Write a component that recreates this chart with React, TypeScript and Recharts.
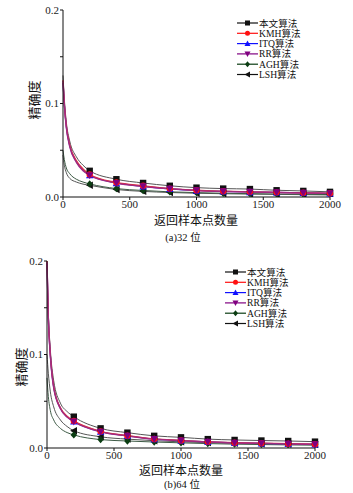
import React from 'react';
import { CartesianGrid, Legend, Line, LineChart, XAxis, YAxis } from 'recharts';

// returned-sample counts (x); markers only drawn at multiples of 200
const sampleCounts = [0, 10, 25, 50, 100, 150, 200, 400, 600, 800, 1000, 1200, 1400, 1600, 1800, 2000];

// (a) 32 bit
const ours32 = [0.13, 0.105, 0.08, 0.06, 0.043, 0.034, 0.028, 0.019, 0.015, 0.012, 0.01, 0.009, 0.0085, 0.0072, 0.0065, 0.0055];
const kmh32 = [0.125, 0.1, 0.076, 0.056, 0.039, 0.03, 0.024, 0.0155, 0.012, 0.009, 0.0072, 0.0062, 0.0055, 0.005, 0.0045, 0.004];
const itq32 = [0.124, 0.099, 0.075, 0.055, 0.038, 0.029, 0.0235, 0.015, 0.0115, 0.0088, 0.007, 0.006, 0.0054, 0.0049, 0.0044, 0.0039];
const rr32 = [0.122, 0.098, 0.074, 0.054, 0.037, 0.028, 0.023, 0.0148, 0.0112, 0.0086, 0.0069, 0.0059, 0.0053, 0.0048, 0.0043, 0.0038];
const agh32 = [0.05, 0.04, 0.031, 0.025, 0.019, 0.016, 0.014, 0.009, 0.007, 0.0055, 0.0047, 0.004, 0.0036, 0.0032, 0.0029, 0.0026];
const lsh32 = [0.045, 0.034, 0.026, 0.02, 0.016, 0.0138, 0.0125, 0.008, 0.006, 0.0048, 0.004, 0.0035, 0.0031, 0.0028, 0.0025, 0.0022];

// (b) 64 bit
const ours64 = [0.2, 0.145, 0.105, 0.072, 0.048, 0.039, 0.0335, 0.021, 0.0164, 0.013, 0.0114, 0.0095, 0.0086, 0.008, 0.0075, 0.0068];
const kmh64 = [0.2, 0.14, 0.1, 0.066, 0.043, 0.034, 0.029, 0.0178, 0.0132, 0.0097, 0.0081, 0.0066, 0.0056, 0.0051, 0.0046, 0.0041];
const itq64 = [0.199, 0.139, 0.099, 0.065, 0.0425, 0.0335, 0.0285, 0.0175, 0.013, 0.0095, 0.0079, 0.0065, 0.0055, 0.005, 0.0045, 0.004];
const rr64 = [0.198, 0.138, 0.098, 0.064, 0.042, 0.033, 0.028, 0.0172, 0.0128, 0.0094, 0.0078, 0.0064, 0.0054, 0.0049, 0.0044, 0.0039];
const agh64 = [0.075, 0.055, 0.04, 0.03, 0.021, 0.0165, 0.014, 0.009, 0.0075, 0.0064, 0.0055, 0.0047, 0.0041, 0.0037, 0.0033, 0.003];
const lsh64 = [0.1, 0.08, 0.06, 0.044, 0.03, 0.023, 0.0185, 0.012, 0.0095, 0.0078, 0.0066, 0.0057, 0.005, 0.0045, 0.004, 0.0036];

const xTicks = [0, 500, 1000, 1500, 2000];
const yTicks = [0, 0.05, 0.1, 0.15, 0.2];

type Series = { key: string; name: string; line: string; mark: string; shape: string; width: number };

const series: Series[] = [
  { key: 'lsh', name: 'LSH算法', line: '#555', mark: '#111', shape: 'left', width: 1 },
  { key: 'agh', name: 'AGH算法', line: '#3d5a45', mark: '#0b3d12', shape: 'diamond', width: 1 },
  { key: 'ours', name: '本文算法', line: '#555', mark: '#111', shape: 'square', width: 1 },
  { key: 'itq', name: 'ITQ算法', line: '#3030e0', mark: '#1010ff', shape: 'up', width: 1.3 },
  { key: 'kmh', name: 'KMH算法', line: '#e03040', mark: '#ff1010', shape: 'circle', width: 1.3 },
  { key: 'rr', name: 'RR算法', line: '#a02a80', mark: '#800080', shape: 'down', width: 1.3 },
];
const legendOrder = ['ours', 'kmh', 'itq', 'rr', 'agh', 'lsh'];

const build = (cols: Record<string, number[]>) =>
  sampleCounts.map((x, i) => {
    const row: Record<string, number> = { x };
    Object.keys(cols).forEach((k) => (row[k] = cols[k][i]));
    return row;
  });

const data32 = build({ ours: ours32, kmh: kmh32, itq: itq32, rr: rr32, agh: agh32, lsh: lsh32 });
const data64 = build({ ours: ours64, kmh: kmh64, itq: itq64, rr: rr64, agh: agh64, lsh: lsh64 });

const Marker = ({ shape, x, y, fill, s = 3.2 }: { shape: string; x: number; y: number; fill: string; s?: number }) => {
  switch (shape) {
    case 'square':
      return <rect x={x - s} y={y - s} width={s * 2} height={s * 2} fill={fill} />;
    case 'circle':
      return <circle cx={x} cy={y} r={s} fill={fill} />;
    case 'up':
      return <polygon points={`${x},${y - s - 0.5} ${x - s - 0.5},${y + s} ${x + s + 0.5},${y + s}`} fill={fill} />;
    case 'down':
      return <polygon points={`${x},${y + s + 0.5} ${x - s - 0.5},${y - s} ${x + s + 0.5},${y - s}`} fill={fill} />;
    case 'diamond':
      return <polygon points={`${x},${y - s - 0.5} ${x + s},${y} ${x},${y + s + 0.5} ${x - s},${y}`} fill={fill} />;
    default:
      return <polygon points={`${x - s - 0.5},${y} ${x + s},${y - s - 0.5} ${x + s},${y + s + 0.5}`} fill={fill} />;
  }
};

const makeDot = (s: Series) => (props: any) => {
  const { cx, cy, payload, index } = props;
  if (!payload || payload.x === 0 || payload.x % 200 !== 0) return <g key={`${s.key}-${index}`} />;
  return (
    <g key={`${s.key}-${index}`}>
      <Marker shape={s.shape} x={cx} y={cy} fill={s.mark} />
    </g>
  );
};

const LegendBox = () => (
  <svg width={80} height={66} style={{ display: 'block', overflow: 'visible' }}>
    {legendOrder.map((k, i) => {
      const s = series.find((d) => d.key === k)!;
      const y = 5 + i * 10.3;
      return (
        <g key={k}>
          <line x1={0} x2={21} y1={y} y2={y} stroke={s.key === 'ours' || s.key === 'lsh' ? '#111' : s.mark} strokeWidth={1.2} />
          <Marker shape={s.shape} x={10.5} y={y} fill={s.mark} s={2.5} />
          <text x={22} y={y + 3.5} fontSize={9.6} fontFamily="'Liberation Serif', 'Noto Sans CJK SC', serif" fill="#111">
            {s.name}
          </text>
        </g>
      );
    })}
  </svg>
);

const tickStyle = { fontSize: 11, fontFamily: "'Liberation Serif', serif", fill: '#222' };
const yFmt = (v: number) => (v === 0 || v === 0.1 || v === 0.2 ? v.toFixed(1) : '');

type PanelProps = {
  data: Record<string, number>[];
  top: number;
  height: number;
  left: number;
  right: number;
  plotTop: number;
  xAxisH: number;
  legendLeft: number;
  legendTop: number;
};

const Panel = ({ data, top, height, left, right, plotTop, xAxisH, legendLeft, legendTop }: PanelProps) => (
  <div style={{ position: 'absolute', left: 0, top, width: 353, height }}>
    <LineChart width={353} height={height} data={data} margin={{ top: plotTop, right: 353 - right, left: 0, bottom: 0 }}>
      <CartesianGrid stroke="none" />
      <XAxis
        dataKey="x"
        type="number"
        domain={[0, 2000]}
        ticks={xTicks}
        height={xAxisH}
        tick={tickStyle}
        tickSize={3}
        tickMargin={0}
        stroke="#111"
        tickLine={{ stroke: '#111' }}
      />
      <YAxis
        type="number"
        domain={[0, 0.2]}
        ticks={yTicks}
        width={left}
        tick={tickStyle}
        tickFormatter={yFmt}
        tickSize={3}
        tickMargin={1}
        stroke="#111"
        allowDataOverflow
      />
      {series.map((s) => (
        <Line
          key={s.key}
          dataKey={s.key}
          name={s.name}
          type="monotone"
          stroke={s.line}
          strokeWidth={s.width}
          dot={makeDot(s)}
          activeDot={false}
          isAnimationActive={false}
        />
      ))}
      <Legend
        layout="vertical"
        align="center"
        verticalAlign="middle"
        content={() => <LegendBox />}
        wrapperStyle={{ position: 'absolute', left: legendLeft, top: legendTop, width: 90, height: 66 }}
      />
    </LineChart>
  </div>
);

const label: React.CSSProperties = {
  position: 'absolute',
  fontFamily: "'Noto Sans CJK SC', sans-serif",
  color: '#111',
  whiteSpace: 'nowrap',
  lineHeight: 1,
  transform: 'translate(-50%, -50%)',
};

export default function App() {
  return (
    <div style={{ position: 'absolute', left: 0, top: 0, width: 353, height: 493, background: '#fff', overflow: 'hidden' }}>
      <Panel data={data32} top={0} height={240} left={63} right={330} plotTop={10} xAxisH={43} legendLeft={237} legendTop={18} />
      <Panel data={data64} top={240} height={253} left={47} right={315} plotTop={21} xAxisH={45} legendLeft={225} legendTop={27} />

      <div style={{ ...label, left: 33, top: 100, fontSize: 13, transform: 'translate(-50%, -50%) rotate(-90deg)' }}>精确度</div>
      <div style={{ ...label, left: 196, top: 219.5, fontSize: 12 }}>返回样本点数量</div>
      <div style={{ ...label, left: 183, top: 238, fontSize: 10.5, fontFamily: "'Liberation Serif', 'Noto Sans CJK SC', serif" }}>(a)32 位</div>

      <div style={{ ...label, left: 20, top: 367, fontSize: 13, transform: 'translate(-50%, -50%) rotate(-90deg)' }}>精确度</div>
      <div style={{ ...label, left: 181, top: 470, fontSize: 12 }}>返回样本点数量</div>
      <div style={{ ...label, left: 182, top: 484.5, fontSize: 10.5, fontFamily: "'Liberation Serif', 'Noto Sans CJK SC', serif" }}>(b)64 位</div>
    </div>
  );
}
